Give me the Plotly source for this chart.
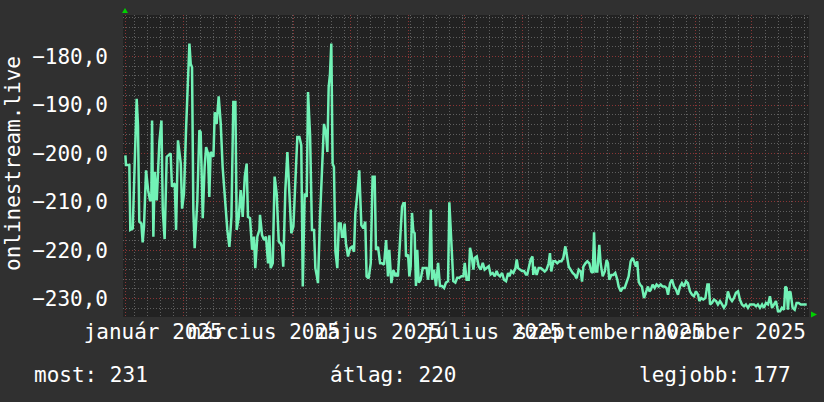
import pandas as pd
import plotly.graph_objects as go

# (day offset from 2025-01-01, rank), in sections
sec_jan_mar = [
    (0.2, 200.4), (0.5, 202.4), (2.3, 202.4), (2.8, 215.8), (4.1, 215.5), (5.2, 199.0), (6.2, 188.7),
    (6.9, 194.2), (7.6, 214.1), (8.7, 214.5), (9.4, 218.4), (10.1, 215.1), (11.2, 203.5), (12.3, 207.6),
    (13.3, 209.7), (14.0, 209.7), (14.4, 193.2), (15.1, 217.2), (15.8, 203.8), (16.9, 209.7), (17.6, 203.5),
    (18.3, 197.6), (19.4, 193.2), (20.1, 211.7), (21.1, 217.7), (22.2, 200.7), (24.3, 200.0), (25.0, 206.9),
    (26.5, 206.2), (27.2, 215.8), (28.2, 197.3), (29.7, 202.1), (30.4, 211.4), (31.4, 208.3), (32.5, 195.2),
    (33.6, 181.5), (34.3, 177.3), (35.0, 181.5), (35.7, 182.2), (36.4, 211.7), (37.1, 219.6), (38.5, 210.0),
    (39.6, 195.2), (40.3, 195.6), (41.4, 213.4), (42.4, 202.8), (43.2, 198.7), (44.2, 200.0), (44.9, 209.0),
    (45.6, 199.7), (47.1, 200.7), (47.8, 191.5), (48.8, 193.9), (49.9, 188.2), (51.0, 193.9), (52.0, 202.8),
    (53.5, 211.7), (54.5, 215.8), (55.6, 219.3), (56.7, 213.1), (57.7, 189.4), (58.8, 189.4), (59.5, 215.8),
    (60.6, 213.1), (61.6, 207.6), (62.7, 213.1), (63.8, 204.8), (64.8, 202.1), (65.5, 213.1), (66.6, 213.4),
    (67.7, 219.9), (68.7, 217.2), (69.4, 223.7), (70.5, 217.2), (71.6, 215.8),
]
sec_mar_may = [
    (71.9, 212.7), (73.0, 216.9), (74.1, 217.9), (75.1, 217.2), (76.2, 222.7), (76.9, 216.9), (77.6, 223.7),
    (78.7, 222.7), (79.7, 204.8), (80.8, 208.3), (81.9, 218.2), (82.9, 218.6), (83.6, 219.3), (84.3, 223.4),
    (85.4, 207.6), (86.5, 199.7), (87.5, 207.6), (88.6, 216.5), (89.7, 215.1), (90.7, 206.9), (91.8, 196.6),
    (92.9, 196.6), (93.9, 198.3), (94.7, 227.5), (95.7, 208.3), (96.8, 209.0), (97.5, 187.3), (98.6, 196.3),
    (99.6, 215.8), (100.7, 215.8), (101.4, 223.7), (102.1, 225.1), (102.8, 226.8), (103.9, 213.1),
    (105.0, 201.4), (106.0, 193.9), (107.1, 195.9), (107.8, 199.7), (108.5, 186.3), (109.2, 183.6),
    (109.9, 177.3), (110.6, 202.1), (111.3, 202.8), (112.1, 220.3), (113.1, 223.7), (113.9, 214.5),
    (114.9, 214.5), (115.6, 217.2), (116.3, 217.2), (117.0, 214.5), (117.7, 218.6), (118.8, 221.3),
    (119.9, 219.6), (120.9, 219.3), (122.0, 220.3), (122.7, 212.4), (123.8, 208.3), (124.8, 203.5),
    (125.9, 214.8), (127.0, 215.5), (128.0, 214.1), (128.7, 225.4), (129.8, 225.8), (130.9, 222.7),
    (131.9, 204.8), (133.0, 204.8), (133.7, 219.9), (134.8, 219.3), (135.9, 222.7), (136.9, 222.7),
    (138.0, 223.0), (139.1, 217.9), (140.1, 225.4), (140.8, 219.9), (141.9, 226.8), (143.0, 224.1),
    (144.1, 225.4),
]
sec_may_aug = [
    (144.4, 224.7), (145.4, 225.4), (146.5, 219.2), (147.6, 211.0), (148.3, 210.3), (149.0, 210.3),
    (149.7, 221.3), (150.8, 220.9), (151.5, 225.4), (152.2, 223.3), (152.9, 212.3), (153.6, 216.1),
    (154.3, 216.5), (155.0, 227.4), (155.7, 219.9), (156.5, 226.7), (157.5, 226.1), (158.6, 223.7),
    (159.7, 223.7), (160.7, 223.7), (161.4, 226.1), (162.1, 224.0), (162.9, 211.6), (163.6, 226.1),
    (164.6, 224.0), (165.7, 227.4), (166.8, 222.6), (167.8, 227.4), (168.9, 227.4), (170.0, 227.8),
    (171.0, 226.7), (172.1, 226.4), (172.8, 210.1), (173.5, 215.8), (174.2, 221.6), (174.9, 226.4),
    (176.0, 226.7), (177.0, 225.7), (178.1, 225.7), (179.2, 225.4), (180.3, 225.4), (181.0, 222.6),
    (182.0, 226.1), (183.1, 226.1), (183.8, 219.5), (184.5, 220.6), (185.6, 224.0), (186.3, 221.6),
    (187.4, 221.3), (188.4, 223.3), (189.5, 224.0), (190.6, 222.6), (191.6, 224.0), (192.7, 223.7),
    (193.8, 223.3), (194.8, 225.0), (195.9, 224.7), (197.0, 225.4), (198.0, 224.3), (198.7, 225.0),
    (199.8, 225.4), (200.9, 224.7), (201.9, 226.1), (203.0, 226.4), (204.1, 224.7), (204.8, 225.4),
    (205.8, 224.3), (206.9, 224.7), (208.0, 223.7), (208.7, 221.9), (209.4, 223.7), (210.4, 224.0),
    (211.5, 224.3), (212.6, 224.3), (213.6, 225.0), (214.3, 225.0), (215.0, 224.0), (216.1, 221.9),
    (217.1, 221.3),
]
sec_aug_oct = [
    (217.5, 225.1), (218.3, 223.4), (219.3, 225.1), (220.4, 223.7), (221.5, 223.7), (222.5, 224.0),
    (223.6, 224.4), (224.6, 224.0), (225.7, 222.7), (226.4, 220.6), (227.1, 224.4), (228.2, 222.3),
    (229.3, 222.3), (230.3, 222.7), (231.4, 222.3), (232.5, 222.3), (233.5, 221.6), (234.6, 219.2),
    (235.3, 221.0), (236.4, 223.4), (237.4, 224.0), (238.5, 224.7), (239.6, 225.1), (240.6, 225.8),
    (241.7, 224.0), (242.8, 224.4), (243.5, 226.5), (244.2, 223.4), (245.3, 222.7), (246.3, 222.3),
    (247.4, 222.7), (248.4, 224.4), (249.2, 224.7), (249.9, 216.3), (250.6, 224.4), (251.6, 224.4),
    (252.7, 218.9), (253.4, 222.7), (254.5, 225.4), (255.6, 224.4), (256.6, 222.0), (257.3, 222.7),
    (258.0, 226.1), (259.1, 225.1), (260.2, 225.1), (261.2, 224.7), (262.3, 226.1), (263.0, 227.5),
    (264.1, 228.5), (265.1, 227.8), (266.2, 227.8), (267.3, 226.5), (268.3, 225.4), (269.4, 222.3),
    (270.5, 221.6), (271.2, 222.3), (272.2, 223.4), (272.9, 222.3), (273.7, 226.5), (274.4, 227.1),
    (275.4, 227.5), (276.5, 229.9), (277.6, 228.5), (278.6, 227.5), (279.4, 228.5), (280.1, 228.2),
    (281.1, 227.1), (282.2, 227.8), (283.2, 227.1), (284.3, 227.5), (285.4, 227.1), (286.4, 227.5),
    (287.5, 227.5), (288.5, 227.8), (289.3, 229.2),
]
sec_oct_dec = [
    (290.4, 226.8), (291.4, 226.1), (292.5, 227.5), (293.5, 228.1), (294.6, 229.2), (295.7, 227.5),
    (296.7, 226.8), (297.8, 227.5), (298.9, 226.4), (299.9, 226.8), (301.0, 228.5), (302.1, 229.2),
    (303.1, 229.5), (304.2, 228.5), (305.3, 229.2), (306.0, 230.5), (307.0, 229.9), (308.1, 230.2),
    (309.2, 229.9), (310.3, 227.1), (311.0, 227.1), (311.7, 231.2), (312.7, 230.9), (313.8, 230.2),
    (314.9, 230.5), (315.9, 231.2), (317.0, 230.5), (318.1, 231.2), (319.1, 231.9), (320.2, 231.2),
    (321.2, 228.5), (322.3, 229.9), (323.4, 230.5), (324.4, 229.9), (325.5, 228.8), (326.6, 228.5),
    (327.6, 230.2), (328.7, 231.2), (329.8, 231.6), (330.8, 231.2), (331.9, 231.9), (333.0, 231.2),
    (334.0, 231.2), (335.1, 231.2), (336.2, 231.6), (337.2, 231.2), (338.3, 231.9), (339.4, 231.2),
    (340.4, 231.9), (341.5, 230.9), (342.6, 231.2), (343.6, 229.5), (344.7, 231.9), (345.8, 231.2),
    (346.8, 230.5), (347.9, 232.6), (349.0, 232.6), (350.0, 231.9), (351.1, 232.3), (351.8, 227.5),
    (352.5, 227.8), (353.2, 232.3), (353.9, 228.5), (354.6, 228.8), (355.7, 231.9), (356.8, 232.3),
    (357.8, 230.9), (358.9, 230.9), (360.0, 231.2), (361.0, 231.2), (362.1, 231.2), (363.2, 231.2),
]

month_tick_dates = ["2025-01-16", "2025-03-16", "2025-05-16", "2025-07-16", "2025-09-16", "2025-11-16"]
month_labels = ["január 2025", "március 2025", "május 2025", "július 2025", "szeptember 2025", "november 2025"]
stat_names = ["most", "átlag", "legjobb"]
stat_values = [231, 220, 177]
y_title = "onlinestream.live"

points = sec_jan_mar + sec_mar_may + sec_may_aug + sec_aug_oct + sec_oct_dec
day_offset = [p[0] for p in points]
rank = [p[1] for p in points]
dates = pd.Timestamp("2025-01-01") + pd.to_timedelta(day_offset, unit="D")
values = [-r for r in rank]

W, H = 824, 402
L, R, T, B = 123, 15, 15, 85
pw, ph = W - L - R, H - T - B

def px(x):
    return (x - L) / pw

def py(y):
    return (H - B - y) / ph

FONT = "DejaVu Sans Mono"
FS = 21
RED = "rgba(150,55,55,0.9)"
GRAY = "rgba(95,95,95,1)"
x_range = ["2024-12-30 22:00", "2025-12-31 10:00"]

fig = go.Figure()
fig.add_trace(go.Scatter(x=dates, y=values, mode="lines",
                         line=dict(color="#72F2B6", width=2.5), hoverinfo="skip", showlegend=False))
fig.add_trace(go.Scatter(x=dates, y=values, mode="lines", xaxis="x2",
                         line=dict(color="rgba(0,0,0,0)", width=0), hoverinfo="skip", showlegend=False))

fig.update_layout(
    width=W, height=H,
    margin=dict(l=L, r=R, t=T, b=B, autoexpand=False),
    paper_bgcolor="#303030", plot_bgcolor="#222222",
    separators=",.",
    font=dict(family=FONT, size=FS, color="white"),
    xaxis=dict(type="date", range=x_range, tick0="2025-01-01", dtick="M1", automargin=False,
               showticklabels=False, ticks="", showgrid=True, gridcolor=RED, gridwidth=1,
               griddash="1px,2px", zeroline=False, showline=False,
               minor=dict(dtick=7 * 86400000, tick0="2025-01-06", showgrid=True,
                          gridcolor=GRAY, gridwidth=1, griddash="1px,2px")),
    xaxis2=dict(type="date", range=x_range, overlaying="x", side="bottom", automargin=False,
                tickvals=month_tick_dates, ticktext=month_labels, tickangle=0,
                showgrid=False, zeroline=False, ticks="", showline=False,
                tickfont=dict(family=FONT, size=FS, color="white")),
    yaxis=dict(range=[-233.8, -171.4], tick0=0, dtick=10, tickformat=".1f", automargin=False,
               showgrid=True, gridcolor=RED, gridwidth=1, griddash="1px,2px",
               zeroline=False, ticks="", ticklabelstandoff=14, showline=False,
               tickfont=dict(family=FONT, size=FS, color="white"),
               minor=dict(dtick=2, tick0=0, showgrid=True, gridcolor=GRAY, gridwidth=1,
                          griddash="1px,2px")),
)

ann = [dict(text=y_title, x=px(13), y=py(164), xref="paper", yref="paper",
            textangle=-90, showarrow=False, xanchor="center", yanchor="middle",
            font=dict(family=FONT, size=FS, color="white"))]
for name, val, xpos in zip(stat_names, stat_values, [32, 328, 637]):
    ann.append(dict(text=f"{name}: {val}", x=px(xpos), y=py(375), xref="paper", yref="paper",
                    showarrow=False, xanchor="left", yanchor="middle",
                    font=dict(family=FONT, size=FS, color="white")))
fig.update_layout(annotations=ann)

def tri(points_px):
    d = "M " + " L ".join(f"{px(a)},{py(b)}" for a, b in points_px) + " Z"
    return dict(type="path", path=d, xref="paper", yref="paper",
                fillcolor="#00d000", line=dict(width=0))

fig.update_layout(shapes=[
    tri([(122, 13), (128, 13), (125, 8)]),
    tri([(811, 311.5), (811, 317.5), (817, 314.5)]),
])

fig.write_html("out.html", config={"displayModeBar": False},
               post_script="document.body.style.margin='0';document.body.style.background='#303030';")
